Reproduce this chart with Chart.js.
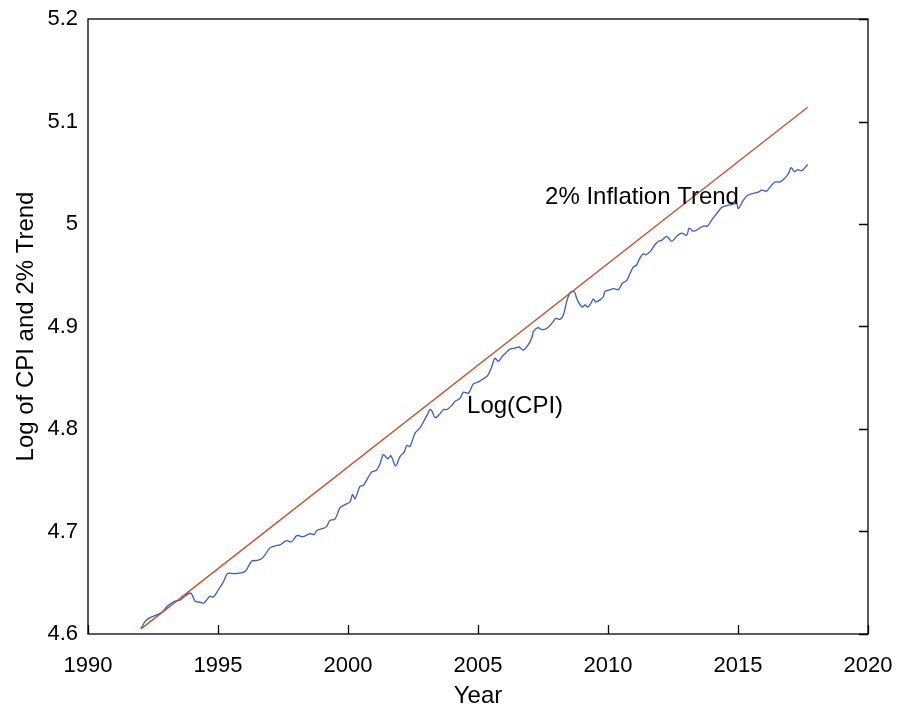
<!DOCTYPE html>
<html>
<head>
<meta charset="utf-8">
<script src="https://cdn.jsdelivr.net/npm/chart.js@4/dist/chart.umd.min.js"></script>
<style>
  html, body { margin: 0; padding: 0; background: #fff; }
  #wrap { width: 897px; height: 707px; }
</style>
</head>
<body>
<div id="wrap"><canvas id="cpi_chart" width="897" height="707"></canvas></div>
<script>
// data
var cpiYears = [1992.04, 1992.19, 1992.38, 1992.58, 1992.83, 1993.09, 1993.35, 1993.54, 1993.73, 1993.92,
  1994.01, 1994.12, 1994.31, 1994.44, 1994.56, 1994.69, 1994.82, 1995.01, 1995.21, 1995.37,
  1995.65, 1996.04, 1996.29, 1996.55, 1996.74, 1997.0, 1997.2, 1997.38, 1997.64, 1997.83,
  1998.03, 1998.28, 1998.54, 1998.70, 1998.80, 1999.05, 1999.18, 1999.31, 1999.50, 1999.69,
  1999.88, 2000.08, 2000.17, 2000.27, 2000.46, 2000.59, 2000.78, 2000.91, 2001.10, 2001.23,
  2001.36, 2001.53, 2001.65, 2001.83, 2002.0, 2002.17, 2002.26, 2002.38, 2002.58, 2002.77,
  2002.90, 2003.03, 2003.15, 2003.22, 2003.35, 2003.54, 2003.67, 2003.80, 2003.99, 2004.12,
  2004.31, 2004.44, 2004.63, 2004.82, 2005.01, 2005.21, 2005.37, 2005.53, 2005.65, 2005.78,
  2005.94, 2006.10, 2006.23, 2006.42, 2006.58, 2006.74, 2006.93, 2007.07, 2007.13, 2007.30,
  2007.45, 2007.64, 2007.84, 2007.99, 2008.15, 2008.28, 2008.41, 2008.54, 2008.70, 2008.79,
  2008.88, 2009.01, 2009.12, 2009.22, 2009.35, 2009.44, 2009.53, 2009.69, 2009.82, 2009.88,
  2010.08, 2010.21, 2010.40, 2010.55, 2010.72, 2010.85, 2010.97, 2011.10, 2011.23, 2011.36,
  2011.45, 2011.62, 2011.81, 2011.93, 2012.06, 2012.26, 2012.45, 2012.64, 2012.83, 2013.03,
  2013.12, 2013.28, 2013.47, 2013.67, 2013.83, 2013.99, 2014.18, 2014.37, 2014.57, 2014.78,
  2014.95, 2015.01, 2015.20, 2015.37, 2015.59, 2015.78, 2015.91, 2016.10, 2016.23, 2016.42,
  2016.62, 2016.81, 2016.94, 2017.04, 2017.17, 2017.30, 2017.45, 2017.68];
var cpiValues = [4.605, 4.612, 4.616, 4.618, 4.621, 4.628, 4.632, 4.633, 4.637, 4.640,
  4.638, 4.632, 4.631, 4.630, 4.633, 4.637, 4.636, 4.643, 4.651, 4.659,
  4.659, 4.661, 4.671, 4.672, 4.675, 4.684, 4.686, 4.687, 4.691, 4.690,
  4.696, 4.695, 4.698, 4.697, 4.701, 4.703, 4.705, 4.711, 4.712, 4.723,
  4.726, 4.729, 4.736, 4.732, 4.744, 4.745, 4.753, 4.758, 4.760, 4.766,
  4.775, 4.771, 4.774, 4.764, 4.773, 4.778, 4.784, 4.783, 4.796, 4.801,
  4.807, 4.813, 4.819, 4.818, 4.811, 4.815, 4.819, 4.819, 4.823, 4.827,
  4.830, 4.836, 4.835, 4.844, 4.846, 4.849, 4.852, 4.861, 4.869, 4.866,
  4.871, 4.875, 4.878, 4.879, 4.880, 4.877, 4.882, 4.889, 4.895, 4.899,
  4.897, 4.898, 4.903, 4.908, 4.907, 4.911, 4.924, 4.933, 4.934, 4.928,
  4.923, 4.919, 4.921, 4.919, 4.923, 4.927, 4.924, 4.926, 4.929, 4.934,
  4.936, 4.937, 4.936, 4.942, 4.945, 4.952, 4.958, 4.960, 4.967, 4.971,
  4.970, 4.973, 4.980, 4.983, 4.984, 4.988, 4.983, 4.988, 4.991, 4.989,
  4.996, 4.993, 4.995, 4.998, 4.998, 5.004, 5.010, 5.016, 5.018, 5.019,
  5.020, 5.015, 5.023, 5.028, 5.030, 5.031, 5.033, 5.032, 5.036, 5.041,
  5.041, 5.045, 5.049, 5.055, 5.051, 5.053, 5.052, 5.058];

var trendYears = [1992.04, 2017.68];
var trendValues = [4.605, 5.114];

var xTicks = [1990, 1995, 2000, 2005, 2010, 2015, 2020];
var yTicks = [4.6, 4.7, 4.8, 4.9, 5.0, 5.1, 5.2];

var cpiColor = '#3a5cc0';
var trendColor = '#c0512b';

function toPoints(xs, ys) {
  var pts = [];
  for (var i = 0; i < xs.length; i++) pts.push({x: xs[i], y: ys[i]});
  return pts;
}

// box round the plot area with inward ticks on bottom and right
var boxPlugin = {
  id: 'boxTicks',
  afterDraw: function(chart) {
    var ctx = chart.ctx, a = chart.chartArea;
    var xs = chart.scales.x, ys = chart.scales.y;
    ctx.save();
    ctx.strokeStyle = '#000';
    ctx.lineWidth = 1.3;
    ctx.strokeRect(a.left, a.top, a.right - a.left, a.bottom - a.top);
    ctx.beginPath();
    xTicks.forEach(function(t) {
      var px = Math.round(xs.getPixelForValue(t)) + 0.5;
      ctx.moveTo(px, a.bottom);
      ctx.lineTo(px, a.bottom - 9);
    });
    yTicks.forEach(function(t) {
      var py = Math.round(ys.getPixelForValue(t)) + 0.5;
      ctx.moveTo(a.right, py);
      ctx.lineTo(a.right - 9, py);
    });
    ctx.stroke();

    ctx.fillStyle = '#000';
    ctx.font = '24px "Liberation Sans", Arial, sans-serif';
    ctx.textAlign = 'left';
    ctx.textBaseline = 'middle';
    ctx.fillText('2% Inflation Trend', xs.getPixelForValue(2007.58), ys.getPixelForValue(5.026));
    ctx.fillText('Log(CPI)', xs.getPixelForValue(2004.58), ys.getPixelForValue(4.822));
    ctx.restore();
  }
};

var ctx_cpi = document.getElementById('cpi_chart');
var cpi_chart = new Chart(ctx_cpi, {
  type: 'line',
  data: {
    datasets: [{
      label: '2% Inflation Trend',
      data: toPoints(trendYears, trendValues),
      borderColor: trendColor,
      borderWidth: 1.3,
      pointRadius: 0,
      tension: 0
    }, {
      label: 'Log(CPI)',
      data: toPoints(cpiYears, cpiValues),
      borderColor: cpiColor,
      borderWidth: 1.3,
      pointRadius: 0,
      tension: 0.3
    }]
  },
  options: {
    responsive: false,
    animation: false,
    layout: { padding: { left: 0, right: 29, top: 19, bottom: 0 } },
    plugins: {
      legend: { display: false },
      tooltip: { enabled: false }
    },
    scales: {
      x: {
        type: 'linear',
        min: 1990,
        max: 2020,
        afterBuildTicks: function(s) { s.ticks = xTicks.map(function(v) { return {value: v}; }); },
        afterFit: function(s) { s.height = 73; s.paddingLeft = 0; s.paddingRight = 0; },
        grid: { drawOnChartArea: false, drawTicks: false },
        border: { display: false },
        ticks: {
          color: '#000',
          padding: 19,
          maxRotation: 0,
          font: { family: '"Liberation Sans", Arial, sans-serif', size: 22 },
          callback: function(v) { return String(v); }
        },
        title: {
          display: true,
          text: 'Year',
          color: '#000',
          padding: { top: 0, bottom: -4 },
          font: { family: '"Liberation Sans", Arial, sans-serif', size: 24 }
        }
      },
      y: {
        min: 4.6,
        max: 5.2,
        afterBuildTicks: function(s) { s.ticks = yTicks.map(function(v) { return {value: v}; }); },
        afterFit: function(s) { s.width = 88; s.paddingTop = 0; s.paddingBottom = 0; },
        grid: { drawOnChartArea: false, drawTicks: false },
        border: { display: false },
        ticks: {
          color: '#000',
          padding: 10,
          font: { family: '"Liberation Sans", Arial, sans-serif', size: 22 },
          callback: function(v) { return String(Math.round(v * 10) / 10); }
        },
        title: {
          display: true,
          text: 'Log of CPI and 2% Trend',
          color: '#000',
          padding: { top: 12, bottom: 0 },
          font: { family: '"Liberation Sans", Arial, sans-serif', size: 24 }
        }
      }
    }
  },
  plugins: [boxPlugin]
});
</script>
</body>
</html>
